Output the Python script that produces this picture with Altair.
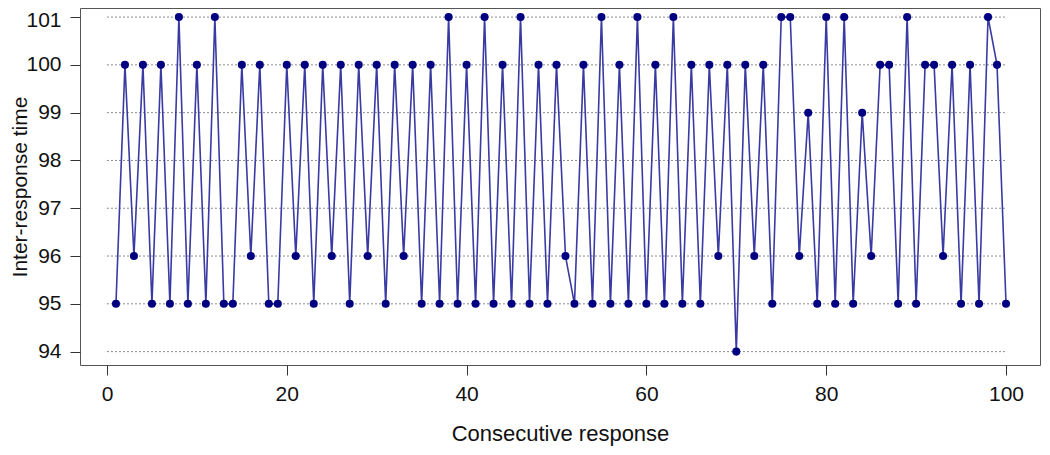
import altair as alt
import pandas as pd

# ---- data ----
response = list(range(1, 101))
irt = [
    95, 100, 96, 100, 95, 100, 95, 101, 95, 100,
    95, 101, 95, 95, 100, 96, 100, 95, 95, 100,
    96, 100, 95, 100, 96, 100, 95, 100, 96, 100,
    95, 100, 96, 100, 95, 100, 95, 101, 95, 100,
    95, 101, 95, 100, 95, 101, 95, 100, 95, 100,
    96, 95, 100, 95, 101, 95, 100, 95, 101, 95,
    100, 95, 101, 95, 100, 95, 100, 96, 100, 94,
    100, 96, 100, 95, 101, 101, 96, 99, 95, 101,
    95, 101, 95, 99, 96, 100, 100, 95, 101, 95,
    100, 100, 96, 100, 95, 100, 95, 101, 100, 95,
]
grid_levels = [94, 95, 96, 97, 98, 99, 100, 101]
grid_start = [0] * len(grid_levels)
grid_end = [100] * len(grid_levels)
x_ticks = [0, 20, 40, 60, 80, 100]
y_ticks = [94, 95, 96, 97, 98, 99, 100, 101]

df = pd.DataFrame({"response": response, "irt": irt})
grid = pd.DataFrame({"level": grid_levels, "start": grid_start, "end": grid_end})

FONT = "Liberation Sans"
TXT = "#111111"

xscale = alt.Scale(domain=[-3.0, 103.78], nice=False, zero=False)
yscale = alt.Scale(domain=[93.72, 101.19], nice=False, zero=False)

xaxis = alt.Axis(
    values=x_ticks, title="Consecutive response", grid=False, domain=False,
    tickSize=10, tickColor="#333333", tickWidth=1,
    labelFont=FONT, labelFontSize=21, labelColor=TXT, labelPadding=8,
    labelFlush=False,
    titleFont=FONT, titleFontSize=22, titleFontWeight="normal", titleColor=TXT,
    titleY=68, titleBaseline="middle",
)
yaxis = alt.Axis(
    values=y_ticks, title="Inter-response time", grid=False, domain=False,
    tickSize=10, tickColor="#333333", tickWidth=1,
    labelFont=FONT, labelFontSize=21, labelColor=TXT, labelPadding=9,
    labelAlign="right", labelBaseline="middle", labelAngle=0,
    labelOffset={"condition": {"test": "datum.value == 101", "value": 3}, "value": 0},
    titleFont=FONT, titleFontSize=21, titleFontWeight="normal", titleColor=TXT,
    titleX=-54, titleBaseline="alphabetic", titleAngle=270,
)

grid_rules = alt.Chart(grid).mark_rule(
    color="#8a8a8a", strokeDash=[2, 2], strokeWidth=1
).encode(
    x=alt.X("start:Q", scale=xscale, axis=xaxis),
    x2="end:Q",
    y=alt.Y("level:Q", scale=yscale, axis=yaxis),
)

base = alt.Chart(df).encode(
    x=alt.X("response:Q", scale=xscale, axis=xaxis),
    y=alt.Y("irt:Q", scale=yscale, axis=yaxis),
)
line = base.mark_line(color="#3a3aa3", strokeWidth=1.6)
pts = base.mark_point(filled=True, color="#000080", size=65, opacity=1)

chart = alt.layer(grid_rules, line, pts).properties(
    width=960,
    height=357,
    autosize=alt.AutoSizeParams(type="none"),
    padding={"left": 72, "top": 0, "right": 2, "bottom": 85},
).configure_view(stroke="#555555", strokeWidth=1)

chart.save("out.html", embed_options={"renderer": "svg", "actions": False})
